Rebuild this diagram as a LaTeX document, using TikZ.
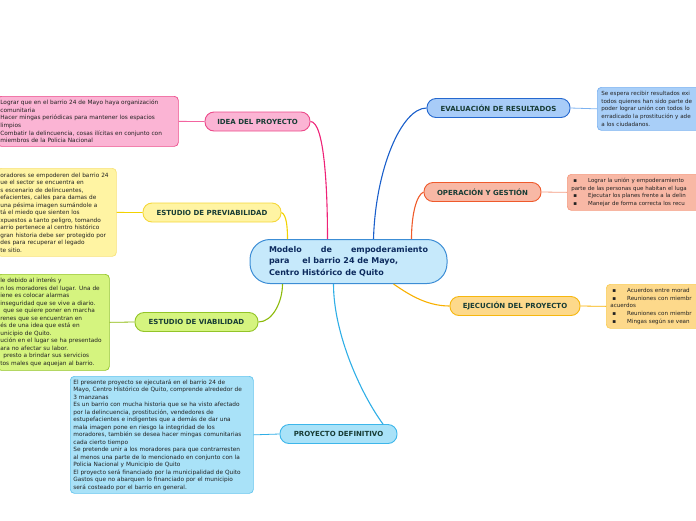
\documentclass[tikz,border=0pt]{standalone}
\usepackage{fontspec}
\newfontfamily\vfont{DejaVu Sans}
\usetikzlibrary{calc}
\definecolor{pinkF}{HTML}{FBB4D4}\definecolor{pinkD}{HTML}{EC4A8A}\definecolor{pinkL}{HTML}{EE2277}
\definecolor{yelF}{HTML}{FFF4A3}\definecolor{yelD}{HTML}{F5D73A}\definecolor{yelL}{HTML}{F2D200}\definecolor{yelLD}{HTML}{F7E27A}
\definecolor{grnF}{HTML}{D5F47F}\definecolor{grnD}{HTML}{93C428}\definecolor{grnL}{HTML}{8CBA0A}
\definecolor{evF}{HTML}{A8CCF8}\definecolor{evD}{HTML}{2568CF}\definecolor{evL}{HTML}{1A5FCB}\definecolor{evLF}{HTML}{A9CFF8}\definecolor{evLD}{HTML}{7DB2F0}
\definecolor{opF}{HTML}{F8B8A5}\definecolor{opD}{HTML}{EF5A2C}\definecolor{opL}{HTML}{EF5B2A}\definecolor{opLD}{HTML}{F59C82}
\definecolor{ejF}{HTML}{FDD98B}\definecolor{ejD}{HTML}{F6B70F}\definecolor{ejL}{HTML}{F8B000}
\definecolor{dfF}{HTML}{A9E2F8}\definecolor{dfD}{HTML}{3DB6EA}\definecolor{dfL}{HTML}{2FAEE6}
\definecolor{cF}{HTML}{C6E9FB}\definecolor{cD}{HTML}{3C8DD5}
\definecolor{labeltext}{HTML}{173C35}\definecolor{ctext}{HTML}{0D2B5E}\definecolor{leaftext}{HTML}{222222}
\begin{document}
\begin{tikzpicture}[x=1pt,y=-1pt,
  branch/.style={draw, rounded corners=9pt, line width=0.9pt, minimum height=19pt, inner sep=0pt,
    font=\vfont\bfseries\fontsize{7}{8}\selectfont, text=labeltext},
  leaf/.style={draw, rounded corners=4pt, line width=0.7pt, inner xsep=3pt, inner ysep=1pt, align=left,
    font=\vfont\fontsize{5.8}{7.6}\selectfont, text=leaftext},
  rleaf/.style={leaf, font=\vfont\fontsize{5.6}{7.7}\selectfont, text width=150pt, inner xsep=4pt, anchor=north west},
  conn/.style={line width=1.1pt},
  lconn/.style={line width=0.8pt}]
\useasboundingbox (0,0) rectangle (696,520);

% central node
\node[draw=cD, fill=cF, line width=1pt, rounded corners=20pt, minimum width=197pt, minimum height=44pt, inner sep=0pt,
  font=\vfont\bfseries\fontsize{8}{11.5}\selectfont, text=ctext] (c) at (348.5,261.5)
  {\parbox{159pt}{Modelo\hfill de\hfill empoderamiento\\para\hspace{13pt}el barrio 24 de Mayo,\\Centro Histórico de Quito}};

% branch nodes
\node[branch, draw=pinkD, fill=pinkF, minimum width=105pt] (idea) at (257.5,121.5) {IDEA DEL PROYECTO};
\node[branch, draw=yelD, fill=yelF, minimum width=138pt] (prev) at (212,212.5) {ESTUDIO DE PREVIABILIDAD};
\node[branch, draw=grnD, fill=grnF, minimum width=123pt] (viab) at (196.5,322) {ESTUDIO DE VIABILIDAD};
\node[branch, draw=evD, fill=evF, minimum width=143pt] (eval) at (498.5,108) {EVALUACIÓN DE RESULTADOS};
\node[branch, draw=opD, fill=opF, minimum width=117pt] (oper) at (482.5,192) {OPERACIÓN Y GESTIÓN};
\node[branch, draw=ejD, fill=ejF, minimum width=130pt] (ejec) at (515,306) {EJECUCIÓN DEL PROYECTO};
\node[branch, draw=dfD, fill=dfF, minimum width=117pt] (defi) at (338.5,434) {PROYECTO DEFINITIVO};

% leaf boxes
\node[leaf, draw=pinkD, fill=pinkF, anchor=north west, minimum height=50pt, text width=175pt] (lidea) at (-3,96)
  {Lograr que en el barrio 24 de Mayo haya organización\\comunitaria\\Hacer mingas periódicas para mantener los espacios\\limpios\\Combatir la delincuencia, cosas ilícitas en conjunto con\\miembros de la Policia Nacional};
\node[leaf, draw=yelLD, fill=yelF, anchor=north west, minimum height=88pt, text width=113pt, font=\vfont\fontsize{5.8}{7.5}\selectfont] (lprev) at (-3,168)
  {oradores se empoderen del barrio 24\\ue el sector se encuentra en\\s escenario de delincuentes,\\efacientes, calles para damas de\\una pésima imagen sumándole a\\tá el miedo que sienten los\\xpuestos a tanto peligro, tomando\\arrio pertenece al centro histórico\\gran historia debe ser protegido por\\des para recuperar el legado\\te sitio.};
\node[leaf, draw=grnD, fill=grnF, anchor=north west, minimum height=96pt, text width=106pt, font=\vfont\fontsize{5.8}{7.5}\selectfont] (lviab) at (-3,274)
  {le debido al interés y\\n los moradores del lugar. Una de\\iene es colocar alarmas\\inseguridad que se vive a diario.\\\hspace*{3pt}que se quiere poner en marcha\\renes que se encuentran en\\és de una idea que está en\\unicipio de Quito.\\ución en el lugar se ha presentado\\ara no afectar su labor.\\\hspace*{3pt}presto a brindar sus servicios\\tos males que aquejan al barrio.};
\node[leaf, draw=dfD!80, fill=dfF, anchor=north west, minimum height=117pt, text width=177pt, font=\vfont\fontsize{5.8}{7.5}\selectfont] (ldefi) at (70,376)
  {El presente proyecto se ejecutará en el barrio 24 de\\Mayo, Centro Histórico de Quito, comprende alrededor de\\3 manzanas\\Es un barrio con mucha historia que se ha visto afectado\\por la delincuencia, prostitución, vendedores de\\estupefacientes e indigentes que a demás de dar una\\mala imagen pone en riesgo la integridad de los\\moradores, también se desea hacer mingas comunitarias\\cada cierto tiempo\\Se pretende unir a los moradores para que contrarresten\\al menos una parte de lo mencionado en conjunto con la\\Policia Nacional y Municipio de Quito\\El proyecto será financiado por la municipalidad de Quito\\Gastos que no abarquen lo financiado por el municipio\\será costeado por el barrio en general.};
\node[rleaf, draw=evLD, fill=evLF, minimum height=43pt] (leval) at (597,87)
  {Se espera recibir resultados exi\\todos quienes han sido parte de\\poder lograr unión con todos lo\\erradicado la prostitución y ade\\a los ciudadanos.};
\node[rleaf, draw=opLD, fill=opF, minimum height=36pt, font=\vfont\fontsize{5.5}{7.6}\selectfont] (loper) at (567,174)
  {\hspace*{2pt}▪\hspace{11pt}Lograr la unión y empoderamiento\\parte de las personas que habitan el luga\\\hspace*{2pt}▪\hspace{11pt}Ejecutar los planes frente a la delin\\\hspace*{2pt}▪\hspace{11pt}Manejar de forma correcta los recu};
\node[rleaf, draw=ejD!70, fill=ejF, minimum height=44pt] (lejec) at (606,284)
  {\hspace*{2pt}▪\hspace{11pt}Acuerdos entre morad\\\hspace*{2pt}▪\hspace{11pt}Reuniones con miembr\\acuerdos\\\hspace*{2pt}▪\hspace{11pt}Reuniones con miembr\\\hspace*{2pt}▪\hspace{11pt}Mingas según se vean};

% main connectors
\draw[conn, pinkL] (idea.east) .. controls +(14,0) and +(0,-50) .. ([xshift=-21pt]c.north);
\draw[conn, yelL] (prev.east) .. controls +(5,2) and +(0,-12) .. ([xshift=-61pt]c.north);
\draw[conn, grnL] (viab.east) .. controls +(14,0) and +(0,18) .. ([xshift=-66pt]c.south);
\draw[conn, evL] (eval.west) .. controls +(-25,0) and +(2,-70) .. ([xshift=25pt]c.north);
\draw[conn, opL] (oper.west) .. controls +(-7,3) and +(0,-25) .. ([xshift=63pt]c.north);
\draw[conn, ejL] (ejec.west) .. controls +(-25,0) and +(12,8) .. ([xshift=45pt]c.south);
\draw[conn, dfL] ([xshift=44.5pt]defi.north) .. controls +(-22,-30) and +(0,50) .. ([xshift=-15pt]c.south);

% leaf connectors
\draw[lconn, pinkL!70] (idea.west) -- (lidea.east);
\draw[lconn, yelL] (prev.west) -- (lprev.east);
\draw[lconn, grnL] (viab.west) -- (lviab.east);
\draw[lconn, dfL] (defi.west) -- (ldefi.east);
\draw[lconn, evLD] (eval.east) -- (leval.west);
\draw[lconn, opLD] (oper.east) -- (loper.west);
\draw[lconn, ejL] (ejec.east) -- (lejec.west);
\end{tikzpicture}
\end{document}
